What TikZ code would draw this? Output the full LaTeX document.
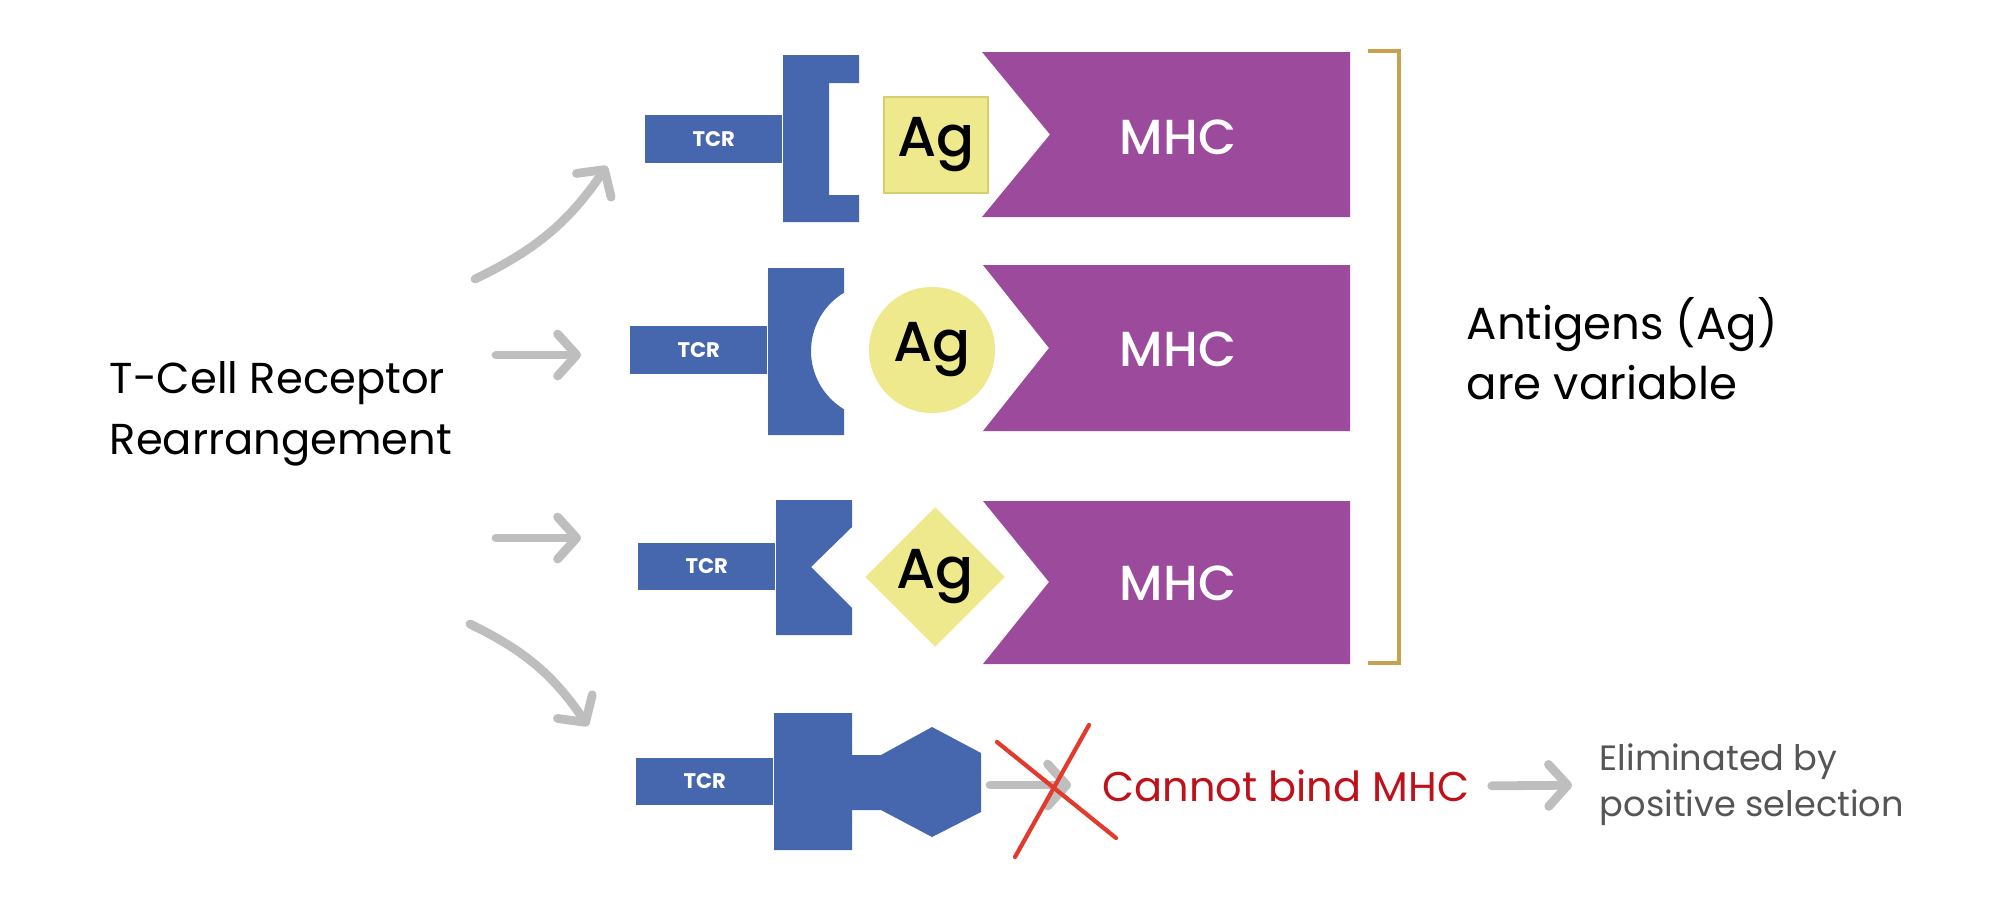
\documentclass[tikz,border=0pt]{standalone}
\usepackage{fontspec}
\setmainfont{Poppins}
\newfontfamily\medfont{Poppins Medium}
\usetikzlibrary{positioning,shapes.geometric,arrows.meta}
\definecolor{tcrblue}{HTML}{4667AE}
\definecolor{mhcpurple}{HTML}{9C4A9C}
\definecolor{agyellow}{HTML}{EEE98C}
\definecolor{agedge}{HTML}{D6CF70}
\definecolor{brgold}{HTML}{C9A04E}
\definecolor{arrgray}{HTML}{BEBEBE}
\definecolor{nored}{HTML}{C0101A}
\definecolor{xred}{HTML}{E23A2C}
\definecolor{elgray}{HTML}{555555}

\begin{document}
\begin{tikzpicture}[x=0.01cm, y=-0.01cm,
      stem/.style={fill=tcrblue, text=white, inner sep=0pt, anchor=east,
        minimum width=1.37cm, minimum height=0.47cm, font=\fontsize{6}{7}\selectfont\bfseries},
      ag/.style={fill=agyellow, inner sep=0pt, font=\fontsize{16}{18}\selectfont\medfont},
      mhclbl/.style={text=white, font=\fontsize{14}{16}\selectfont\medfont},
      grarrow/.style={draw=arrgray, line width=2.5pt, line cap=round,
        -{Straight Barb[length=1.9mm,width=4.2mm,round]}},
      xline/.style={draw=xred, line width=1.2pt, line cap=round},
      lbl/.style={align=left, inner sep=0pt, anchor=west, font=\fontsize{12.3}{17.5}\selectfont}]
    \useasboundingbox (0,0) rectangle (2004,903);

    % left label and arrows
    \node[lbl] (rearr) at (109,414) {T-Cell Receptor\\Rearrangement};
    \coordinate (a1s) at (475,279); \coordinate (a1e) at (607,166);
    \coordinate (a2s) at (496,355); \coordinate (a2e) at (581,355);
    \coordinate (a3s) at (496,538); \coordinate (a3e) at (581,538);
    \coordinate (a4s) at (470,624); \coordinate (a4e) at (588,726);
    \draw[grarrow] (a1s) to[bend right=15] (a1e);
    \draw[grarrow] (a2s) -- (a2e);
    \draw[grarrow] (a3s) -- (a3e);
    \draw[grarrow] (a4s) to[bend left=15] (a4e);

    % row 1: square antigen
    \fill[tcrblue] (783,55) -- (859,55) -- (859,83) -- (829,83) -- (829,195)
      -- (859,195) -- (859,222) -- (783,222) -- cycle;
    \node[stem] (tcrA) at (783,139) {TCR};
    \node[ag, draw=agedge, minimum width=1.04cm, minimum height=0.96cm] (agA) at (936,145) {Ag};
    \fill[mhcpurple] (982,52) -- (1350,52) -- (1350,217) -- (982,217) -- (1050,134.5) -- cycle;
    \node[mhclbl] (mhcA) at (1178,137) {MHC};

    % row 2: round antigen
    \fill[tcrblue] (768,268) -- (844,268) -- (844,292.7) arc[start angle=239, end angle=121, radius=68]
      -- (844,435) -- (768,435) -- cycle;
    \node[stem] (tcrB) at (768,350) {TCR};
    \node[ag, circle, minimum size=1.26cm] (agB) at (932,350) {Ag};
    \fill[mhcpurple] (983,265) -- (1350,265) -- (1350,431) -- (983,431) -- (1049,348) -- cycle;
    \node[mhclbl] (mhcB) at (1178,349) {MHC};

    % row 3: diamond antigen
    \fill[tcrblue] (776,500) -- (852,500) -- (852,527) -- (811,567) -- (852,608)
      -- (852,635) -- (776,635) -- cycle;
    \node[stem] (tcrC) at (776,566.5) {TCR};
    \node[ag, diamond, aspect=1, minimum width=1.4cm, minimum height=1.4cm] (agC) at (935,577) {Ag};
    \fill[mhcpurple] (983,501) -- (1350,501) -- (1350,664) -- (983,664) -- (1049,582) -- cycle;
    \node[mhclbl] (mhcC) at (1178,583) {MHC};

    \draw[brgold, line width=1pt] (1368,51) -- (1399,51) -- (1399,663) -- (1368,663);
    \node[lbl, font=\fontsize{12.8}{17}\selectfont] (agvar) at (1466,349) {Antigens (Ag)\\are variable};

    % row 4: no fit
    \fill[tcrblue] (774,713) -- (852,713) -- (852,755) -- (881,755) -- (932,727) -- (981,753)
      -- (981,812) -- (932,837) -- (881,810) -- (852,810) -- (852,850) -- (774,850) -- cycle;
    \node[stem] (tcrD) at (774,781.5) {TCR};
    \coordinate (b1s) at (990,785); \coordinate (b1e) at (1071,785);
    \draw[grarrow] (b1s) -- (b1e);
    \draw[xline] (997,742) -- (1116,838);
    \draw[xline] (1089,725) -- (1015,857);
    \node[lbl, text=nored, font=\fontsize{11.8}{14}\selectfont] (nobind) at (1102,786) {Cannot bind MHC};
    \node[lbl, text=elgray, font=\fontsize{10}{13}\selectfont] (elim) at (1599,785) {Eliminated by\\positive selection};
    \draw[grarrow, shorten <=2.2mm, shorten >=2.7mm] (nobind.east) -- (elim.west);
  \end{tikzpicture}
\end{document}
